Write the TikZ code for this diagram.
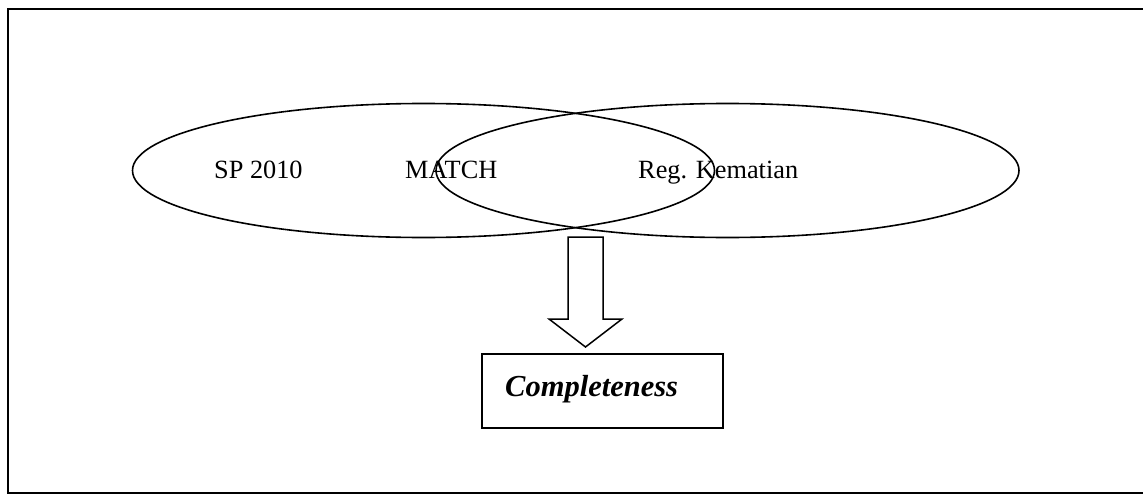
\documentclass[tikz,border=0pt]{standalone}
\usepackage{fontspec}
\setmainfont{Liberation Serif}
\usetikzlibrary{shapes.geometric}
\begin{document}
\begin{tikzpicture}[x=1pt,y=-1pt,
  set/.style={draw,ellipse,line width=1.6pt,inner sep=0pt,outer sep=0pt},
  lbl/.style={anchor=base west,inner sep=0pt,font=\fontsize{26.3}{30}\selectfont},
  resbox/.style={draw,rectangle,line width=1.5pt,inner sep=0pt,minimum width=241pt,minimum height=74pt},
  blockarrow/.style={draw,line width=1.5pt,line join=miter,fill=white}]
\useasboundingbox (0,0) rectangle (1143,495);
% outer frame (right side off the page)
\draw[line width=1.6pt] (1143,9) -- (8,9) -- (8,493) -- (1143,493);
% sets
\node[set,minimum width=582pt,minimum height=134pt] (sp) at (423.5,170.5) {};
\node[set,minimum width=583pt,minimum height=134pt] (reg) at (727.5,170.5) {};
% labels
\node[lbl] (tsp) at (214,178) {SP 2010};
\node[lbl] (tmatch) at (405,178) {MATCH};
\node[lbl] (treg) at (638,178) {Reg. Kematian};
% result box
\node[resbox] (cbox) at (602.5,391) {};
\node[anchor=base west,inner sep=0pt,font=\fontsize{30.5}{34}\selectfont\bfseries\itshape] (tcomp) at (505,396) {Completeness};
% block arrow
\coordinate (atop) at (585.5,237);
\coordinate (atip) at (585.5,347);
\draw[blockarrow] (568,237) -- (603,237) -- (603,319) -- (622,319) -- (atip) -- (549,319) -- (568,319) -- cycle;
\end{tikzpicture}
\end{document}
